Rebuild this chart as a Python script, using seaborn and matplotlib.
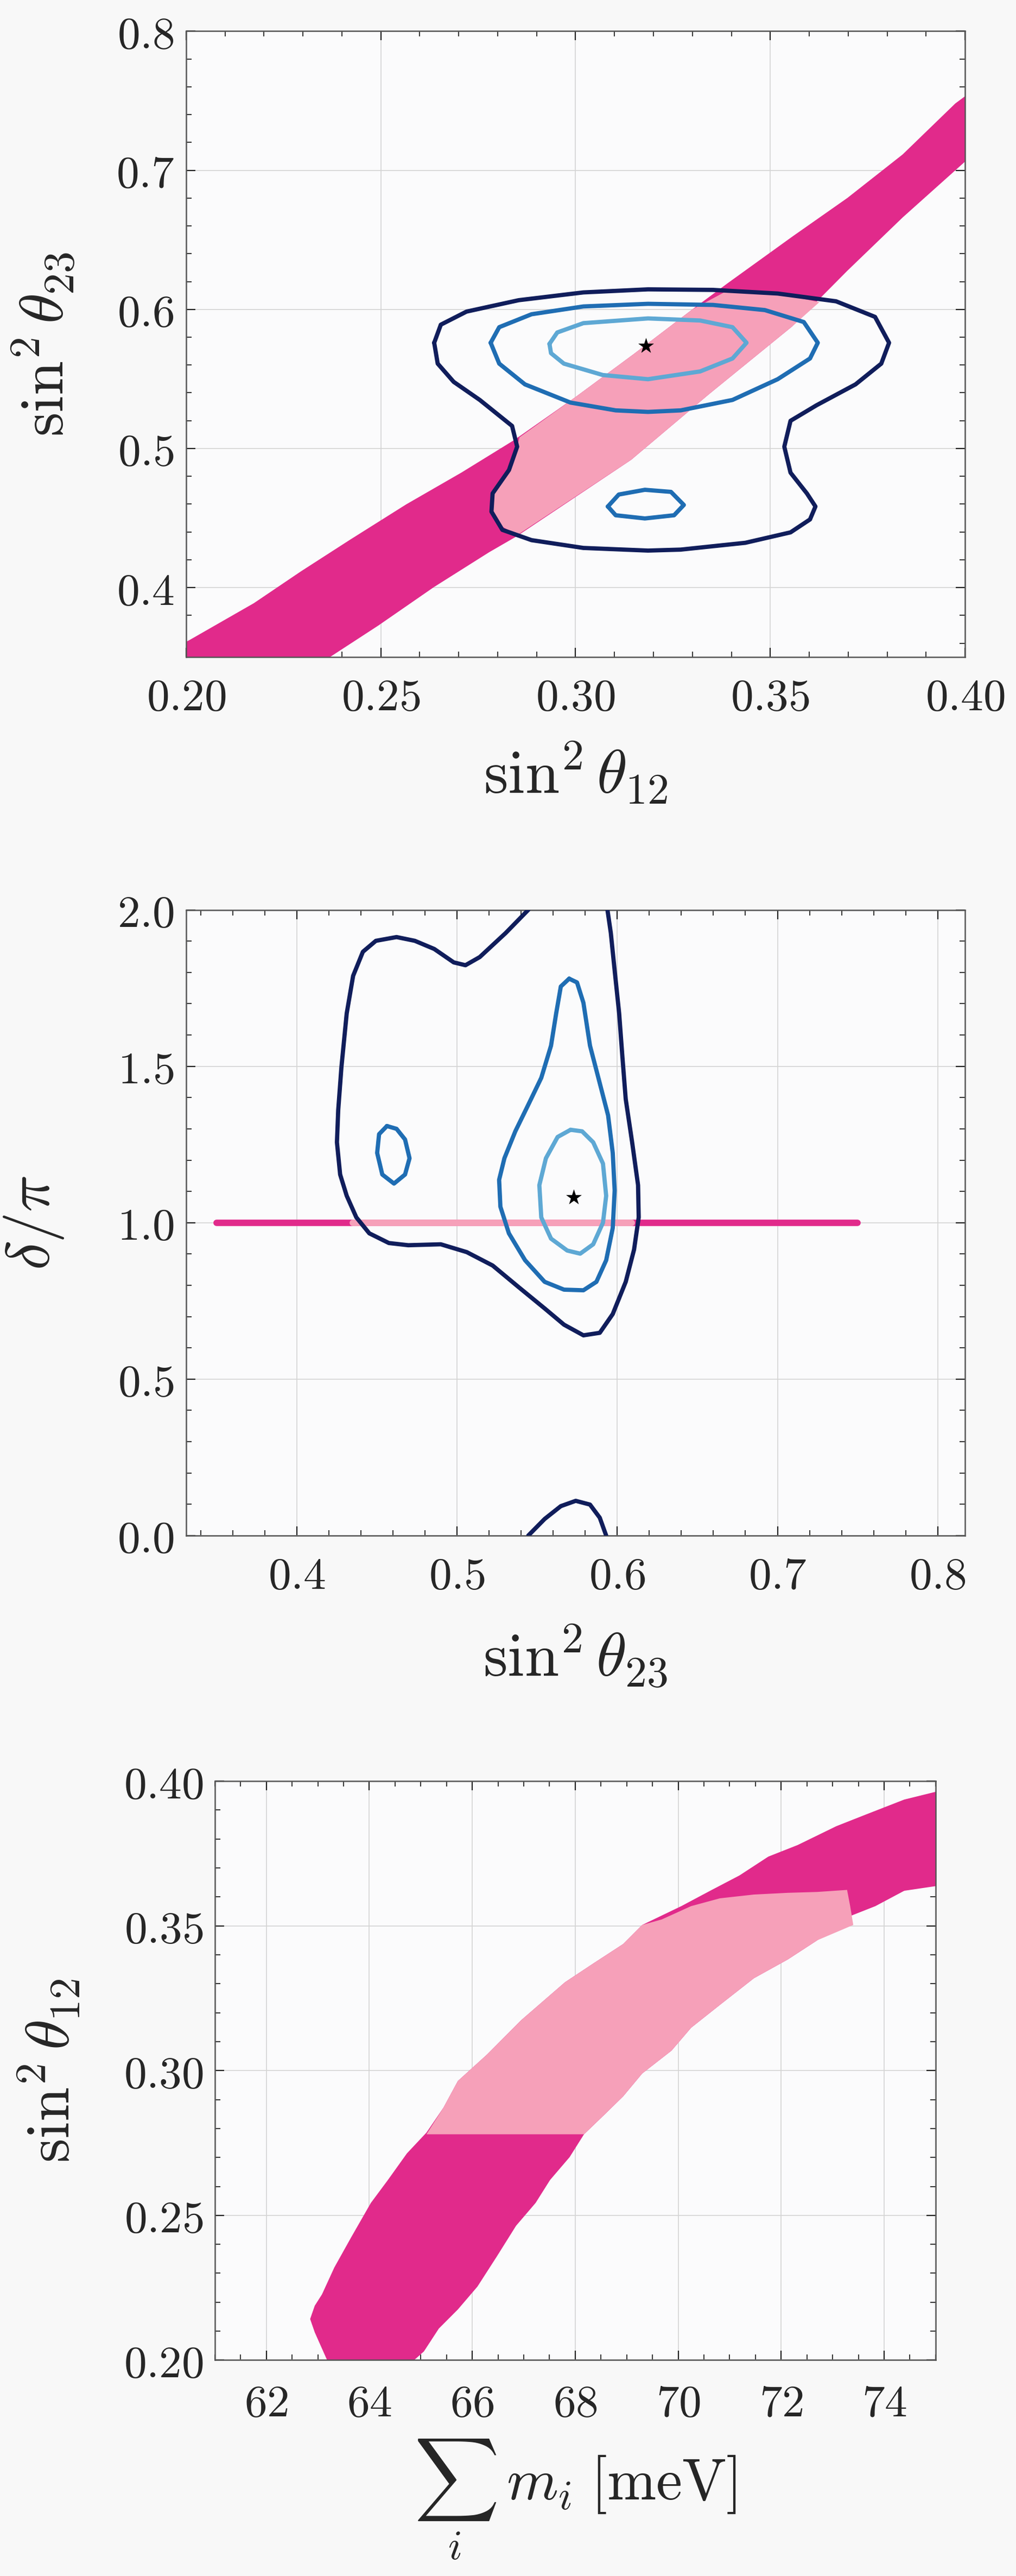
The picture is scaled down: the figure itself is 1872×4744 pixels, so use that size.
import matplotlib.pyplot as plt
from matplotlib.ticker import MultipleLocator, FuncFormatter
import seaborn as sns

# ── Colours ────────────────────────────────────────────────────
DARK_PINK = "#e12a8b"
LIGHT_PINK = "#f6a0b9"
NAVY = "#101d5b"
MID_BLUE = "#1f6db3"
LIGHT_BLUE = "#5ea8d4"

# ── Panel 1: sin^2 th12 vs sin^2 th23 ──────────────────────────
band1_upper_x = [0.190, 0.2010, 0.2174, 0.2295, 0.2422, 0.2565, 0.2707, 0.2842,
                 0.3000, 0.3150, 0.3300, 0.3392, 0.3556, 0.3698, 0.3840, 0.3975, 0.4100]
band1_upper_y = [0.346, 0.3625, 0.3888, 0.4117, 0.4346, 0.4598, 0.4827, 0.5060,
                 0.5370, 0.5680, 0.6000, 0.6191, 0.6522, 0.6801, 0.7114, 0.7480, 0.7740]
band1_lower_x = [0.4100, 0.4000, 0.3840, 0.3698, 0.3556, 0.3342, 0.3143, 0.2849,
                 0.2778, 0.2636, 0.2494, 0.2369, 0.2200]
band1_lower_y = [0.7300, 0.7062, 0.6661, 0.6278, 0.5877, 0.5389, 0.4919, 0.4369,
                 0.4254, 0.4003, 0.3728, 0.3500, 0.3200]

pink1_x = [0.2849, 0.3143, 0.3342, 0.3556, 0.3626, 0.3519, 0.3392, 0.3300,
           0.3150, 0.3000, 0.2856, 0.2850, 0.2829, 0.2787, 0.2784, 0.2799]
pink1_y = [0.4375, 0.4919, 0.5389, 0.5877, 0.6052, 0.6114, 0.6138, 0.6000,
           0.5680, 0.5370, 0.5080, 0.5013, 0.4845, 0.4677, 0.4546, 0.4461]

c1_outer_x = [0.2637, 0.2654, 0.2720, 0.2854, 0.3020, 0.3186, 0.3353, 0.3519, 0.3669,
              0.3769, 0.3805, 0.3785, 0.3719, 0.3619, 0.3552, 0.3536, 0.3552, 0.3594,
              0.3616, 0.3602, 0.3552, 0.3436, 0.3270, 0.3186, 0.3020, 0.2887, 0.2812,
              0.2784, 0.2787, 0.2829, 0.2850, 0.2837, 0.2754, 0.2687, 0.2646]
c1_outer_y = [0.576, 0.589, 0.5984, 0.6066, 0.6122, 0.6144, 0.6140, 0.6114, 0.6058,
              0.5946, 0.576, 0.561, 0.5461, 0.5311, 0.5199, 0.5013, 0.4826, 0.4677,
              0.4583, 0.4490, 0.4397, 0.4322, 0.4273, 0.4266, 0.4285, 0.4341, 0.4415,
              0.4546, 0.4677, 0.4845, 0.5013, 0.5162, 0.5349, 0.5479, 0.561]
c1_mid_x = [0.2782, 0.2804, 0.2887, 0.3020, 0.3186, 0.3353, 0.3486, 0.3586, 0.3622,
            0.3602, 0.3519, 0.3403, 0.3270, 0.3186, 0.3103, 0.2987, 0.2870, 0.2804]
c1_mid_y = [0.576, 0.5872, 0.5965, 0.6021, 0.6040, 0.6032, 0.5995, 0.5909, 0.576,
            0.5647, 0.5498, 0.5349, 0.5274, 0.5263, 0.5274, 0.5330, 0.5461, 0.561]
c1_island_x = [0.3083, 0.3111, 0.3178, 0.3245, 0.3278, 0.3253, 0.3178, 0.3103]
c1_island_y = [0.4583, 0.4669, 0.4703, 0.4688, 0.4594, 0.4520, 0.4497, 0.4520]
c1_inner_x = [0.2933, 0.2953, 0.3020, 0.3186, 0.3320, 0.3403, 0.3439, 0.3403,
              0.3320, 0.3186, 0.3070, 0.2970, 0.2937]
c1_inner_y = [0.5752, 0.5834, 0.5901, 0.5935, 0.5920, 0.5872, 0.576, 0.5647,
              0.5554, 0.5498, 0.5528, 0.561, 0.5685]
best1 = (0.318, 0.5737)

# ── Panel 2: sin^2 th23 vs delta/pi ────────────────────────────
line2_dark_x = [0.35, 0.75]
line2_light_x = [0.435, 0.609]
line2_y = [1.0, 1.0]

c2_outer_x = [0.5445, 0.5304, 0.5142, 0.5053, 0.4980, 0.4858, 0.4737, 0.4623, 0.4494,
              0.4413, 0.4352, 0.4312, 0.4279, 0.4259, 0.4251, 0.4271, 0.4312, 0.4372,
              0.4453, 0.4575, 0.4696, 0.4899, 0.5061, 0.5223, 0.5385, 0.5547, 0.5668,
              0.5789, 0.5891, 0.5972, 0.6053, 0.6105, 0.6134, 0.6130, 0.6093, 0.6053,
              0.6032, 0.6012, 0.5984, 0.5960, 0.5939]
c2_outer_y = [2.0, 1.926, 1.849, 1.823, 1.832, 1.875, 1.901, 1.913, 1.901,
              1.866, 1.789, 1.669, 1.497, 1.360, 1.257, 1.154, 1.086, 1.017,
              0.966, 0.935, 0.928, 0.931, 0.906, 0.863, 0.794, 0.726, 0.674,
              0.640, 0.648, 0.708, 0.811, 0.914, 1.017, 1.120, 1.257, 1.395,
              1.532, 1.669, 1.806, 1.926, 2.0]
c2_bottom_x = [0.5445, 0.5547, 0.5648, 0.5741, 0.5830, 0.5891, 0.5931]
c2_bottom_y = [0.0, 0.053, 0.094, 0.111, 0.099, 0.057, 0.0]
c2_mid_x = [0.5700, 0.5648, 0.5619, 0.5587, 0.5526, 0.5445, 0.5364, 0.5296, 0.5263,
            0.5271, 0.5324, 0.5425, 0.5547, 0.5668, 0.5789, 0.5870, 0.5931, 0.5972,
            0.5984, 0.5972, 0.5943, 0.5891, 0.5830, 0.5789, 0.5749]
c2_mid_y = [1.780, 1.755, 1.669, 1.566, 1.463, 1.377, 1.292, 1.206, 1.137,
            1.051, 0.966, 0.880, 0.811, 0.786, 0.784, 0.811, 0.880, 0.983,
            1.103, 1.223, 1.343, 1.446, 1.566, 1.703, 1.768]
c2_island_x = [0.4563, 0.4514, 0.4502, 0.4534, 0.4607, 0.4676, 0.4704, 0.4676, 0.4623]
c2_island_y = [1.309, 1.283, 1.223, 1.154, 1.125, 1.154, 1.206, 1.266, 1.300]
c2_inner_x = [0.5709, 0.5628, 0.5555, 0.5514, 0.5526, 0.5587, 0.5688, 0.5769,
              0.5850, 0.5911, 0.5931, 0.5911, 0.5850, 0.5781]
c2_inner_y = [1.297, 1.274, 1.206, 1.120, 1.017, 0.949, 0.911, 0.901,
              0.931, 1.000, 1.086, 1.189, 1.257, 1.292]
best2 = (0.5729, 1.081)

# ── Panel 3: sum of masses vs sin^2 th12 ───────────────────────
band3_x = [63.18, 62.94, 62.85, 62.94, 63.08, 63.32, 63.65, 64.03, 64.36, 64.73,
           65.11, 65.44, 65.72, 66.29, 66.95, 67.80, 68.36, 68.93, 69.30, 70.06,
           70.62, 71.19, 71.75, 72.32, 73.07, 73.64, 74.39, 75.30,
           75.30, 74.39, 73.83, 73.36, 72.70, 72.13, 71.47, 70.81, 70.25, 69.87,
           69.30, 68.93, 68.55, 68.17, 67.89, 67.51, 67.23, 66.85, 66.48, 66.10,
           65.72, 65.35, 65.06, 64.87]
band3_y = [0.2000, 0.2096, 0.2142, 0.2188, 0.2227, 0.2320, 0.2425, 0.2543, 0.2622, 0.2714,
           0.2786, 0.2872, 0.2964, 0.3056, 0.3174, 0.3305, 0.3371, 0.3437, 0.3503, 0.3568,
           0.3621, 0.3674, 0.3739, 0.3779, 0.3844, 0.3884, 0.3936, 0.3976,
           0.3645, 0.3621, 0.3568, 0.3535, 0.3450, 0.3384, 0.3319, 0.3227, 0.3148, 0.3069,
           0.2990, 0.2911, 0.2845, 0.2780, 0.2701, 0.2622, 0.2543, 0.2464, 0.2359, 0.2254,
           0.2175, 0.2109, 0.2030, 0.2000]
pink3_x = [65.11, 65.44, 65.72, 66.29, 66.95, 67.80, 68.36, 68.93, 69.30, 69.68,
           70.25, 70.81, 71.47, 72.13, 72.70, 73.28, 73.34, 73.40,
           72.70, 72.13, 71.47, 70.81, 70.25, 69.87, 69.30, 68.93, 68.55, 68.17]
pink3_y = [0.2780, 0.2872, 0.2964, 0.3056, 0.3174, 0.3305, 0.3371, 0.3437, 0.3503, 0.3522,
           0.3568, 0.3595, 0.3608, 0.3614, 0.3617, 0.3624, 0.3568, 0.3503,
           0.3450, 0.3384, 0.3319, 0.3227, 0.3148, 0.3069, 0.2990, 0.2911, 0.2845, 0.2780]

sns.set_theme(style="ticks")
plt.rcParams.update({
    "mathtext.fontset": "cm",
    "font.family": ["DejaVu Serif"],
    "figure.facecolor": "#f8f8f8",
    "axes.facecolor": "#fbfbfc",
    "axes.edgecolor": "#555555",
    "axes.linewidth": 1.8,
})

TICK_SIZE = 60
LABEL_SIZE = 82


def closed(v):
    return list(v) + [v[0]]


def curve(ax, xs, ys, color, lw=5.6, close=True):
    if close:
        xs, ys = closed(xs), closed(ys)
    sns.lineplot(x=xs, y=ys, sort=False, estimator=None, color=color,
                 linewidth=lw, ax=ax, legend=False, zorder=4,
                 solid_joinstyle="round", solid_capstyle="round")


def style_axes(ax, xfmt, yfmt, xmaj, xmin, ymaj, ymin, xpad, ypad):
    ax.xaxis.set_major_locator(MultipleLocator(xmaj))
    ax.xaxis.set_minor_locator(MultipleLocator(xmin))
    ax.yaxis.set_major_locator(MultipleLocator(ymaj))
    ax.yaxis.set_minor_locator(MultipleLocator(ymin))
    ax.xaxis.set_major_formatter(FuncFormatter(lambda v, p: "$" + format(v, xfmt) + "$"))
    ax.yaxis.set_major_formatter(FuncFormatter(lambda v, p: "$" + format(v, yfmt) + "$"))
    ax.tick_params(which="both", direction="in", top=True, right=True, color="#222222")
    ax.tick_params(which="major", length=12, width=1.6, labelsize=TICK_SIZE)
    ax.tick_params(which="minor", length=7, width=1.3)
    ax.tick_params(axis="x", which="major", pad=xpad)
    ax.tick_params(axis="y", which="major", pad=ypad)
    ax.grid(True, which="major", color="#d4d4d4", lw=1.2, zorder=0)
    ax.set_axisbelow(True)


fig = plt.figure(figsize=(18.72, 47.44), dpi=100)

# panel 1
ax1 = fig.add_axes([0.1832, 0.7449, 0.7666, 0.2430])
ax1.fill(band1_upper_x + band1_lower_x, band1_upper_y + band1_lower_y,
         color=DARK_PINK, lw=0, zorder=2)
ax1.fill(pink1_x, pink1_y, color=LIGHT_PINK, lw=0, zorder=3)
curve(ax1, c1_outer_x, c1_outer_y, NAVY)
curve(ax1, c1_mid_x, c1_mid_y, MID_BLUE)
curve(ax1, c1_island_x, c1_island_y, MID_BLUE)
curve(ax1, c1_inner_x, c1_inner_y, LIGHT_BLUE)
sns.scatterplot(x=[best1[0]], y=[best1[1]], marker="*", s=480, color="black",
                edgecolor="black", linewidth=0, ax=ax1, zorder=5)
ax1.set_xlim(0.20, 0.40)
ax1.set_ylim(0.35, 0.80)
style_axes(ax1, ".2f", ".1f", 0.05, 0.01, 0.1, 0.02, 25, 16)
ax1.set_xlabel(r"$\sin^2\theta_{12}$", fontsize=LABEL_SIZE)
ax1.set_ylabel(r"$\sin^2\theta_{23}$", fontsize=LABEL_SIZE)
ax1.xaxis.set_label_coords(0.5, -0.135)
ax1.yaxis.set_label_coords(-0.14, 0.5)

# panel 2
ax2 = fig.add_axes([0.1832, 0.4039, 0.7666, 0.2429])
sns.lineplot(x=line2_dark_x, y=line2_y, color=DARK_PINK, linewidth=8.5, ax=ax2,
             legend=False, zorder=3)
sns.lineplot(x=line2_light_x, y=line2_y, color=LIGHT_PINK, linewidth=8.5, ax=ax2,
             legend=False, zorder=3)
curve(ax2, c2_outer_x, c2_outer_y, NAVY, close=False)
curve(ax2, c2_bottom_x, c2_bottom_y, NAVY, close=False)
curve(ax2, c2_mid_x, c2_mid_y, MID_BLUE)
curve(ax2, c2_island_x, c2_island_y, MID_BLUE)
curve(ax2, c2_inner_x, c2_inner_y, LIGHT_BLUE)
sns.scatterplot(x=[best2[0]], y=[best2[1]], marker="*", s=480, color="black",
                edgecolor="black", linewidth=0, ax=ax2, zorder=5)
ax2.set_xlim(0.331, 0.817)
ax2.set_ylim(0.0, 2.0)
style_axes(ax2, ".1f", ".1f", 0.1, 0.02, 0.5, 0.1, 25, 16)
ax2.set_xlabel(r"$\sin^2\theta_{23}$", fontsize=LABEL_SIZE)
ax2.set_ylabel(r"$\delta/\pi$", fontsize=LABEL_SIZE)
ax2.xaxis.set_label_coords(0.5, -0.14)
ax2.yaxis.set_label_coords(-0.155, 0.5)

# panel 3
ax3 = fig.add_axes([0.2115, 0.0838, 0.7094, 0.2248])
ax3.fill(band3_x, band3_y, color=DARK_PINK, lw=0, zorder=2)
ax3.fill(pink3_x, pink3_y, color=LIGHT_PINK, lw=0, zorder=3)
ax3.set_xlim(61, 75)
ax3.set_ylim(0.20, 0.40)
style_axes(ax3, ".0f", ".2f", 2, 0.5, 0.05, 0.01, 29, 15)
ax3.set_xlabel(r"$\sum_i\;m_i\;[\mathrm{meV}]$", fontsize=78)
ax3.set_ylabel(r"$\sin^2\theta_{12}$", fontsize=LABEL_SIZE)
ax3.xaxis.set_label_coords(0.5, -0.135)
ax3.yaxis.set_label_coords(-0.183, 0.5)

fig.savefig("out.png", dpi=100)
